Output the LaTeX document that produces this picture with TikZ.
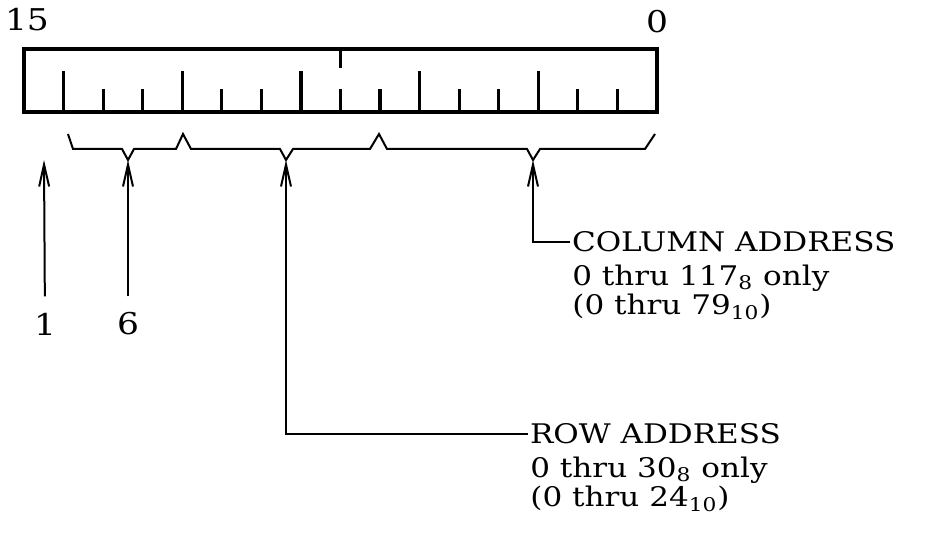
\documentclass[tikz,border=0pt]{standalone}
\usepackage{fontspec}
\setmainfont{DejaVu Serif}[FakeStretch=1.15]
\usetikzlibrary{arrows.meta,positioning}

\begin{document}
\begin{tikzpicture}[x=0.5pt,y=-0.5pt,
    reg/.style={line width=1.6pt},
    br/.style={line width=1pt,line join=miter},
    a/.style={-{Straight Barb[length=11pt,width=5pt,line width=1pt]},line width=1pt},
    ptr/.style={a,shorten <=8pt},
    num/.style={inner sep=0pt,font=\fontsize{15}{17}\selectfont},
    hd/.style={inner sep=0pt,outer sep=1pt,anchor=west,font=\fontsize{13.5}{15}\selectfont},
    sub/.style={inner sep=0pt,align=left,font=\fontsize{13.5}{14.8}\selectfont}]
  \useasboundingbox (0,0) rectangle (926,534);
  % register word, bit 15 at the left
  \draw[reg] (24,49) rectangle (657,112);
  \foreach \k in {1,...,15} {
    \pgfmathsetmacro\ytop{mod(\k,3)==1 ? 71 : 89}
    \draw[reg] ({24+39.5625*\k},\ytop) -- ({24+39.5625*\k},112);
  }
  \draw[reg] ({24+39.5625*8},49) -- ({24+39.5625*8},68);
  \node[num] (msb) at (27,20) {15};
  \node[num] (lsb) at (657,22) {0};
  % field braces
  \draw[br] (68,134) -- (73,149) -- (122,149) -- (128,160) coordinate (tipA) -- (134,149) -- (176,149) -- (183,134)
    -- (191,149) -- (280,149) -- (286,160) coordinate (tipB) -- (293,149) -- (370,149) -- (379,134)
    -- (387,149) -- (527,149) -- (533,160) coordinate (tipC) -- (540,149) -- (645,149) -- (655,134);
  \coordinate (b15) at (44,160);
  \node[num] (one) at (45,324) {1};
  \node[num] (six) at (128,324) {6};
  \draw[ptr] (one) -- (b15);
  \draw[ptr] (six) -- (tipA);
  % address fields
  \node[hd] (colhd) at (570,242) {COLUMN ADDRESS};
  \node[sub,below right=5pt and 1pt of colhd.south west] (colsub) {0 thru 117\textsubscript{8} only\\(0 thru 79\textsubscript{10})};
  \node[hd] (rowhd) at (528,434) {ROW ADDRESS};
  \node[sub,below right=5pt and 1pt of rowhd.south west] (rowsub) {0 thru 30\textsubscript{8} only\\(0 thru 24\textsubscript{10})};
  \draw[a] (colhd.west) -| (tipC);
  \draw[a] (rowhd.west) -| (tipB);
\end{tikzpicture}
\end{document}
